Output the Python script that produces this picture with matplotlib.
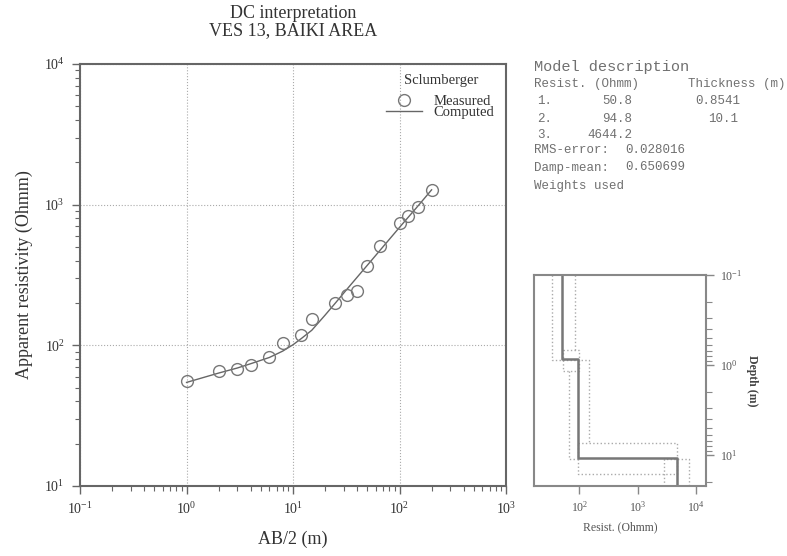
import numpy as np
import matplotlib
matplotlib.use("Agg")
import matplotlib.pyplot as plt
from matplotlib.ticker import NullLocator

plt.rcParams['font.family'] = ['Liberation Serif', 'DejaVu Serif']
plt.rcParams['mathtext.fontset'] = 'stix'

# measured sounding data
ab2 = [1, 2, 3, 4, 6, 8, 12, 15, 25, 32, 40, 50, 65, 100, 120, 150, 200]
rho_meas = [56, 65.6, 67.5, 72.4, 82.2, 104, 118, 153, 199, 229, 242, 368, 510, 743, 830, 967, 1263]

# computed curve
ab2_calc = [1, 2, 3, 4, 6, 8, 10, 12, 15, 20, 25, 32, 40, 50, 65, 100, 120, 150, 200]
rho_calc = [54.5, 63.5, 69, 74, 82, 91, 101, 112, 128, 164, 200, 250, 305, 372, 470, 690, 810, 985, 1275]

# layered model
layer_rho = [50.8, 94.8, 4644.2]
layer_thk = [0.8541, 10.1]
depth_top = 0.1
depth_bottom = 22

# equivalence bounds (dotted), resistivity / depth pairs
bound_lines = [
    ([33.7, 33.7, 147, 147], [0.1, 0.87, 0.87, 7.3]),
    ([84, 84], [0.1, 0.68]),
    ([52, 100, 100, 52, 52], [0.68, 0.68, 1.16, 1.16, 0.68]),
    ([66, 66, 95], [1.16, 11, 11]),
    ([95, 4666, 4666, 95, 95], [7.3, 7.3, 16.5, 16.5, 7.3]),
    ([2800, 2800, 7600, 7600], [22, 11, 11, 22]),
]

txt_col = '#333333'
axc = '#666666'

fig = plt.figure(figsize=(7.87, 5.56), dpi=100)

ax = fig.add_axes([0.1017, 0.1259, 0.5413, 0.759])
ax.set_xscale('log')
ax.set_yscale('log')
ax.set_xlim(0.1, 1000)
ax.set_ylim(10, 10000)
ax.grid(True, which='major', linestyle=':', color='#aaaaaa', linewidth=0.8)
ax.plot(ab2_calc, rho_calc, '-', color='#666666', lw=1.0, label='Computed', zorder=3)
ax.plot(ab2, rho_meas, 'o', mfc='none', mec='#777777', ms=8.5, mew=1.0,
        label='Measured', zorder=4)
for s in ax.spines.values():
    s.set_color(axc)
    s.set_linewidth(1.5)
ax.tick_params(which='major', length=6, width=1, color=axc, labelsize=10,
               labelcolor=txt_col, pad=5)
ax.tick_params(which='minor', length=3.5, width=0.8, color=axc)
ax.set_xlabel('AB/2 (m)', fontsize=13, color=txt_col, labelpad=10)
ax.set_ylabel('Apparent resistivity (Ohmm)', fontsize=13, color=txt_col, labelpad=8)

# legend: title as separate text, entries tightly packed
ax.text(0.8486, 0.962, 'Sclumberger', transform=ax.transAxes, ha='center',
        va='center', fontsize=10.5, color=txt_col)
h, l = ax.get_legend_handles_labels()
leg = ax.legend(h[::-1], l[::-1], loc='center', bbox_to_anchor=(0.845, 0.898),
                frameon=False, fontsize=10.5, handlelength=2.5,
                handletextpad=0.75, labelspacing=-0.2, borderpad=0)
for t in leg.get_texts():
    t.set_color(txt_col)

fig.text(0.3723, 1 - 14 / 556, 'DC interpretation', ha='center', va='center',
         fontsize=13, color=txt_col)
fig.text(0.3723, 1 - 31 / 556, 'VES 13, BAIKI AREA', ha='center', va='center',
         fontsize=13, color=txt_col)

# model description text
mono = dict(family='Liberation Mono', color='#707070', va='center')
fx = lambda px: px / 787
fy = lambda py: 1 - py / 556
fig.text(fx(534), fy(67), 'Model description', fontsize=11, **mono)
fig.text(fx(534), fy(84), 'Resist. (Ohmm)', fontsize=9, **mono)
fig.text(fx(688), fy(84), 'Thickness (m)', fontsize=9, **mono)
rows_y = [101.5, 118.5, 135]
for i, r in enumerate(layer_rho):
    fig.text(fx(537), fy(rows_y[i]), f'{i + 1}.', fontsize=9, **mono)
    fig.text(fx(632), fy(rows_y[i]), f'{r:.1f}', fontsize=9, ha='right', **mono)
fig.text(fx(695.7), fy(rows_y[0]), f'{layer_thk[0]:.4f}', fontsize=9, **mono)
fig.text(fx(738.5), fy(rows_y[1]), f'{layer_thk[1]:.1f}', fontsize=9, ha='right', **mono)
fig.text(fx(534), fy(150), 'RMS-error:', fontsize=9, **mono)
fig.text(fx(625), fy(150), '0.028016', fontsize=9, **mono)
fig.text(fx(534), fy(167.5), 'Damp-mean:', fontsize=9, **mono)
fig.text(fx(625), fy(167.5), '0.650699', fontsize=9, **mono)
fig.text(fx(534), fy(186), 'Weights used', fontsize=9, **mono)

# model panel
ax2 = fig.add_axes([0.6785, 0.1264, 0.2182, 0.379])
ax2.set_xscale('log')
ax2.set_yscale('log')
ax2.set_xlim(16.7, 14700)
ax2.set_ylim(depth_bottom, depth_top)
for xs, ys in bound_lines:
    ax2.plot(xs, ys, ':', color='#aaaaaa', lw=1.0)
bounds = np.concatenate([[depth_top], np.cumsum(layer_thk), [depth_bottom]])
mx = np.repeat(layer_rho, 2)
my = np.repeat(bounds, 2)[1:-1]
ax2.plot(mx, my, '-', color='#777777', lw=1.8)
for s in ax2.spines.values():
    s.set_color('#888888')
    s.set_linewidth(1.5)
ax2.yaxis.tick_right()
ax2.yaxis.set_label_position('right')
ax2.set_xticks([100, 1000, 10000])
ax2.xaxis.set_minor_locator(NullLocator())
ax2.tick_params(which='major', length=6, width=1, color='#888888', labelsize=8.5,
                labelcolor='#555555', pad=4)
ax2.tick_params(which='minor', length=4, width=0.8, color='#888888')
ax2.set_xlabel('Resist. (Ohmm)', fontsize=8.5, color='#555555', labelpad=5)
ax2.set_ylabel('Depth (m)', fontsize=8.5, color='#444444', rotation=270,
               labelpad=12, fontweight='bold')

fig.savefig('out.png', dpi=100)
